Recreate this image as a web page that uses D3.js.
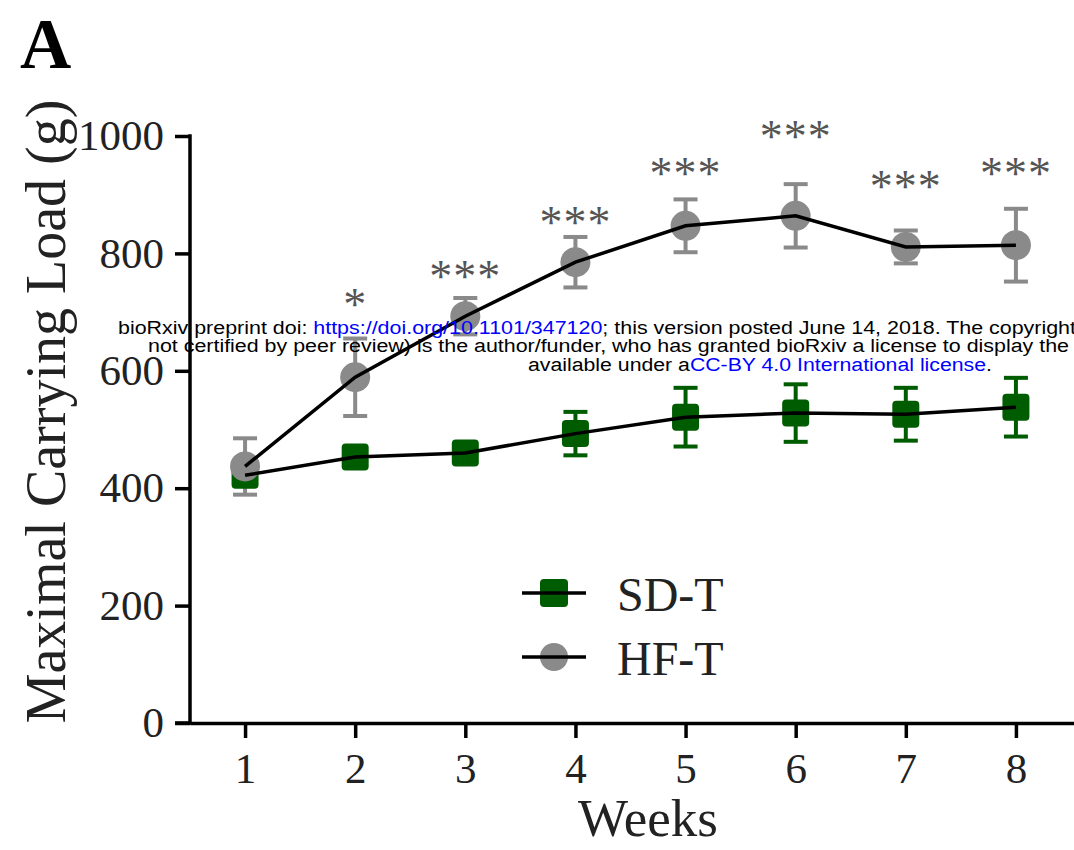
<!DOCTYPE html>
<html>
<head>
<meta charset="utf-8">
<script src="https://cdn.jsdelivr.net/npm/d3@7"></script>
<style>
  html, body { margin: 0; padding: 0; background: #fff; }
  svg { display: block; }
</style>
</head>
<body>
<svg id="chart" width="1074" height="850"></svg>
<script>
// Maximal carrying load (g) per week, mean ± error
const weeks = [1, 2, 3, 4, 5, 6, 7, 8];
const sdMean = [422, 453, 460, 493, 521, 528, 526, 538];
const sdErr  = [18, 10, 10, 37, 50, 49, 45, 50];
const hfMean = [437, 589, 693, 785, 847, 864, 811, 814];
const hfErr  = [48, 66, 31, 43, 45, 54, 28, 62];
// significance marks (HF-T vs SD-T) and the load level they sit at
const sigLabels = ["", "*", "***", "***", "***", "***", "***", "***"];
const sigLevel  = [0, 729, 777, 869, 953, 1016, 930, 953];
const yTicks = [0, 200, 400, 600, 800, 1000];
const seriesNames = ["SD-T", "HF-T"];

const svg = d3.select("#chart");
const serif = "'Liberation Serif', 'Times New Roman', serif";
const green = "#005c00";
const grey = "#8a8a8a";
const textColor = "#222";

const x = d3.scaleLinear().domain([0.5, 8.6]).range([190, 1082]);
const y = d3.scaleLinear().domain([0, 1000]).range([723, 136]);

// panel letter
svg.append("text").attr("x", 20).attr("y", 68)
  .attr("font-family", serif).attr("font-weight", "bold").attr("font-size", 71)
  .text("A");

// axes
const yAxis = svg.append("g").attr("transform", `translate(${x(0.5)},0)`)
  .call(d3.axisLeft(y).tickValues(yTicks).tickFormat(d3.format("d"))
    .tickSize(15).tickPadding(11).tickSizeOuter(0));
const xAxis = svg.append("g").attr("transform", `translate(0,${y(0)})`)
  .call(d3.axisBottom(x).tickValues(weeks).tickFormat(d3.format("d"))
    .tickSize(15).tickPadding(14).tickSizeOuter(0));
[yAxis, xAxis].forEach(g => {
  g.select(".domain").attr("stroke", "#000").attr("stroke-width", 3.5);
  g.selectAll(".tick line").attr("stroke", "#000").attr("stroke-width", 3.5);
  g.selectAll(".tick text").attr("font-family", serif).attr("font-size", 43).attr("fill", textColor);
});
// y axis line runs from the top tick down to the x axis
yAxis.select(".domain").attr("d", `M0,${y(1000) - 1.75}V${y(0) + 1.75}`);
// short stub of the x axis left of the y axis
svg.append("line").attr("x1", x(0.5) - 15).attr("x2", x(0.5))
  .attr("y1", y(0)).attr("y2", y(0)).attr("stroke", "#000").attr("stroke-width", 3.5);

// axis titles
svg.append("text").attr("transform", `translate(65,${(y(0) + 100) / 2}) rotate(-90)`)
  .attr("text-anchor", "middle").attr("font-family", serif).attr("font-size", 56).attr("fill", textColor)
  .text("Maximal Carrying Load (g)");
svg.append("text").attr("x", 648).attr("y", 836)
  .attr("text-anchor", "middle").attr("font-family", serif).attr("font-size", 53).attr("fill", textColor)
  .text("Weeks");

const sd = weeks.map((w, i) => ({ w, m: sdMean[i], e: sdErr[i] }));
const hf = weeks.map((w, i) => ({ w, m: hfMean[i], e: hfErr[i] }));

function errorBars(data, color) {
  const g = svg.append("g").attr("stroke", color).attr("stroke-width", 4).attr("fill", "none");
  data.forEach(d => {
    const cx = x(d.w), top = y(d.m + d.e), bot = y(d.m - d.e);
    g.append("line").attr("x1", cx).attr("x2", cx).attr("y1", top).attr("y2", bot);
    g.append("line").attr("x1", cx - 12).attr("x2", cx + 12).attr("y1", top).attr("y2", top);
    g.append("line").attr("x1", cx - 12).attr("x2", cx + 12).attr("y1", bot).attr("y2", bot);
  });
}
errorBars(sd, green);
errorBars(hf, grey);

// markers
const sq = 27;
svg.append("g").selectAll("rect").data(sd).join("rect")
  .attr("x", d => x(d.w) - sq / 2).attr("y", d => y(d.m) - sq / 2)
  .attr("width", sq).attr("height", sq).attr("rx", 4)
  .attr("fill", green);
svg.append("g").selectAll("circle").data(hf).join("circle")
  .attr("cx", d => x(d.w)).attr("cy", d => y(d.m)).attr("r", 15)
  .attr("fill", grey);

// connecting lines
const line = d3.line().x(d => x(d.w)).y(d => y(d.m));
[sd, hf].forEach(data => {
  svg.append("path").datum(data).attr("d", line)
    .attr("fill", "none").attr("stroke", "#000").attr("stroke-width", 3.5);
});

// significance marks
svg.append("g").selectAll("text").data(weeks.filter((w, i) => sigLabels[i])).join("text")
  .attr("x", w => x(w)).attr("y", w => y(sigLevel[w - 1]) + 25)
  .attr("text-anchor", "middle").attr("font-family", serif).attr("font-size", 46)
  .attr("fill", "#555").attr("letter-spacing", 1)
  .text(w => sigLabels[w - 1]);

// legend
const legend = svg.append("g");
const legendRows = [593, 657];
seriesNames.forEach((name, i) => {
  const ly = legendRows[i];
  if (i === 0) {
    legend.append("rect").attr("x", 554 - 14).attr("y", ly - 14)
      .attr("width", 28).attr("height", 28).attr("rx", 4).attr("fill", green);
  } else {
    legend.append("circle").attr("cx", 554).attr("cy", ly).attr("r", 14).attr("fill", grey);
  }
  legend.append("line").attr("x1", 522).attr("x2", 586).attr("y1", ly).attr("y2", ly)
    .attr("stroke", "#000").attr("stroke-width", 3.5);
  legend.append("text").attr("x", 617).attr("y", ly + 18)
    .attr("font-family", serif).attr("font-size", 48).attr("fill", textColor)
    .text(name);
});

// preprint notice
const sans = "'Liberation Sans', Arial, sans-serif";
const notice = [
  { x: 118, y: 334, len: 958, parts: [["bioRxiv preprint doi: ", "#000"], ["https://doi.org/10.1101/347120", "#0000ff"], ["; this version posted June 14, 2018. The copyright", "#000"]] },
  { x: 148, y: 352, len: 921, parts: [["not certified by peer review) is the author/funder, who has granted bioRxiv a license to display the", "#000"]] },
  { x: 528, y: 371, len: 464, parts: [["available under a", "#000"], ["CC-BY 4.0 International license", "#0000ff"], [".", "#000"]] }
];
notice.forEach(n => {
  const t = svg.append("text").attr("x", n.x).attr("y", n.y)
    .attr("font-family", sans).attr("font-size", 18)
    .attr("textLength", n.len).attr("lengthAdjust", "spacingAndGlyphs");
  n.parts.forEach(([s, c]) => t.append("tspan").attr("fill", c).text(s));
});
</script>
</body>
</html>
